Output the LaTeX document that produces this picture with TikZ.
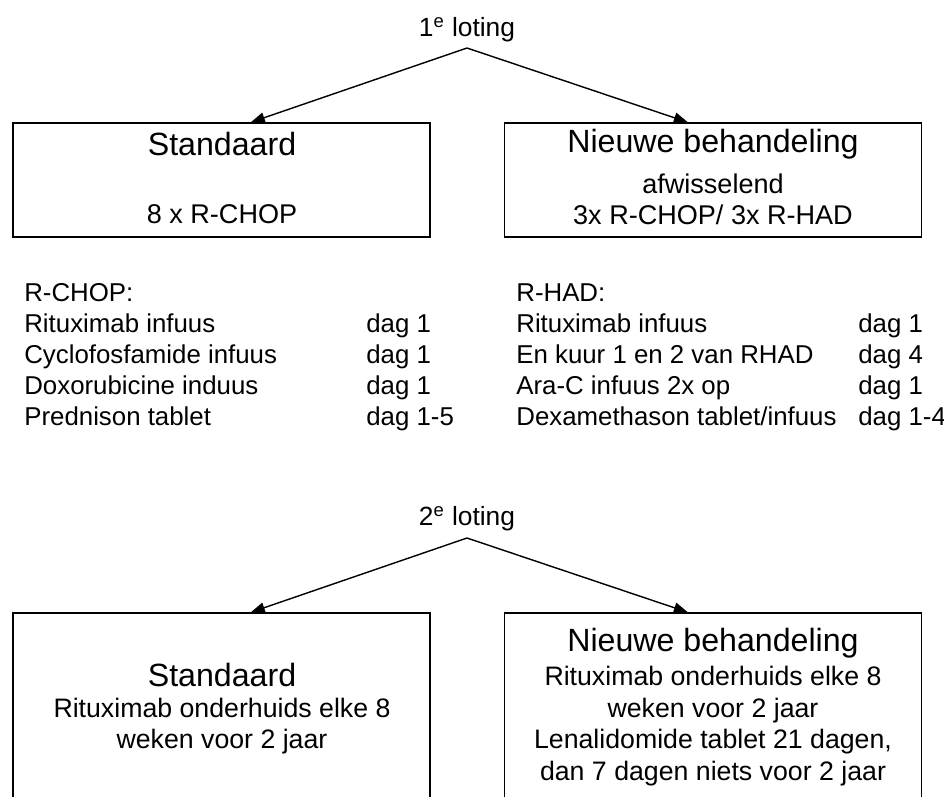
\documentclass[tikz,border=0pt]{standalone}
\usepackage{fontspec}
\setmainfont{Liberation Sans}
\usetikzlibrary{arrows.meta,calc,positioning}

\begin{document}
\begin{tikzpicture}[x=0.02cm,y=-0.02cm,
		box/.style={draw, line width=0.8pt, minimum width=8.34cm, minimum height=2.28cm, inner sep=0pt},
		openbox/.style={box, minimum height=4.6cm}, % onderkant valt buiten beeld
		kop/.style={font=\fontsize{18.3}{21}\selectfont},
		sub/.style={font=\fontsize{15.4}{17.6}\selectfont, align=center},
		sub2/.style={font=\fontsize{15.2}{18.1}\selectfont, align=center},
		loting/.style={font=\fontsize{15}{17}\selectfont},
		lijst/.style={font=\fontsize{14.7}{17}\selectfont, anchor=base west, inner sep=0pt},
		every edge/.style={draw, line width=0.8pt, -{Triangle[length=8pt,width=6pt]}},
		]
		\useasboundingbox (0,0) rectangle (944,796);
		\clip (0,0) rectangle (944,796);
		
		% 1e loting
		\node[loting] (lot1) at (467,30) {1\textsuperscript{e} loting};
		\coordinate (split1) at (467,48);
		\node[box] (std1) at (221.5,180) {};
		\node[box] (nw1) at (713,180) {};
		\node[kop] (std1kop) at (222,144) {Standaard};
		\node[sub] (std1tekst) at (222,214) {8 x R-CHOP};
		\node[kop] (nw1kop) at (713,144) {Nieuwe behandeling};
		\node[sub] (nw1tekst) at (713,199) {afwisselend\\3x R-CHOP/ 3x R-HAD};
		
		\draw (split1) edge ($(std1.north west)!0.57!(std1.north east)$)
		               edge ($(nw1.north west)!0.44!(nw1.north east)$);
		
		% De schema's
		\node[lijst] (rchop) at (24,301) {R-CHOP:};
		\foreach \naam/\dag [count=\i] in {Rituximab infuus/1, Cyclofosfamide infuus/1,
			Doxorubicine induus/1, Prednison tablet/1-5} {
			\node[lijst] (rchop\i) at (24,{301+31*\i}) {\naam};
			\node[lijst] (rchopdag\i) at (366,{301+31*\i}) {dag \dag};
		}
		\node[lijst] (rhad) at (516,301) {R-HAD:};
		\foreach \naam/\dag [count=\i] in {Rituximab infuus/1, En kuur 1 en 2 van RHAD/4,
			Ara-C infuus 2x op/1, {Dexamethason tablet/infuus}/1-4} {
			\node[lijst] (rhad\i) at (516,{301+31*\i}) {\naam};
			\node[lijst] (rhaddag\i) at (858,{301+31*\i}) {dag \dag};
		}
		
		% 2e loting
		\node[loting] (lot2) at (467,519) {2\textsuperscript{e} loting};
		\coordinate (split2) at (467,538);
		\node[openbox] (std2) at (221.5,728) {};
		\node[openbox] (nw2) at (713,728) {};
		\node[kop] (std2kop) at (222,675) {Standaard};
		\node[sub2] (std2tekst) at (222,726) {Rituximab onderhuids elke 8\\weken voor 2 jaar};
		\node[kop] (nw2kop) at (713,643) {Nieuwe behandeling};
		\node[sub2] (nw2tekst) at (713,726) {Rituximab onderhuids elke 8\\weken voor 2 jaar\\Lenalidomide tablet 21 dagen,\\dan 7 dagen niets voor 2 jaar};
		
		\draw (split2) edge ($(std2.north west)!0.57!(std2.north east)$)
		               edge ($(nw2.north west)!0.44!(nw2.north east)$);
	\end{tikzpicture}
\end{document}
